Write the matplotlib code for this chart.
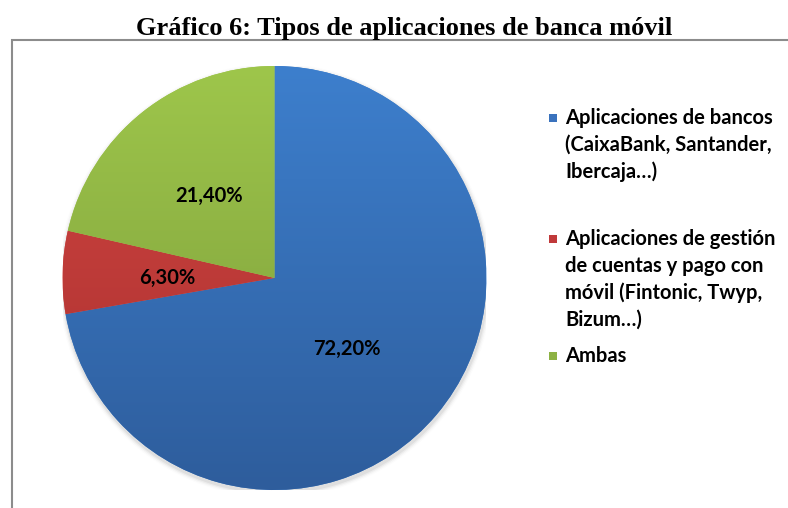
import numpy as np
import matplotlib
matplotlib.use("Agg")
import matplotlib.pyplot as plt
from matplotlib.patches import Rectangle
from matplotlib.colors import LinearSegmentedColormap

categories = [
    "Aplicaciones de bancos\n(CaixaBank, Santander,\nIbercaja…)",
    "Aplicaciones de gestión\nde cuentas y pago con\nmóvil (Fintonic, Twyp,\nBizum…)",
    "Ambas",
]
values = [72.2, 6.3, 21.4]
value_labels = ["72,20%", "6,30%", "21,40%"]
# (top colour, bottom colour) of the Excel-style gradient
colors = [("#3d7fcd", "#2e5d9c"), ("#d24643", "#a82f2d"), ("#9ec64b", "#7a9a3a")]
legend_colors = ["#3a72bd", "#c0393a", "#8db244"]

W, H = 788, 508
fig = plt.figure(figsize=(W / 100, H / 100), dpi=100)

fig.text(404 / W, 1 - 28 / H, "Gráfico 6: Tipos de aplicaciones de banca móvil",
         ha="center", va="center", fontsize=19, fontweight="bold",
         family="Liberation Serif")

# chart frame
fig.patches.append(Rectangle((12 / W, -0.05), 1.0, (H - 40) / H + 0.05,
                             transform=fig.transFigure, fill=False,
                             edgecolor="#8c8c8c", linewidth=1.5))

# pie axes: centre (274.5, 278), radius 212 px
r = 212
ax = fig.add_axes([(274.5 - r) / W, (H - 278 - r) / H, 2 * r / W, 2 * r / H])
wedges, _ = ax.pie(values, colors=[c[0] for c in colors], startangle=90,
                   counterclock=False, radius=1.0, wedgeprops=dict(linewidth=0))
ax.set_xlim(-1, 1)
ax.set_ylim(-1, 1)
ax.set_aspect("auto")

# soft shadow
for i, a in enumerate(np.linspace(0.05, 0.012, 4)):
    ax.add_patch(plt.Circle((0.004, -0.012), 1.0 + 0.006 * (i + 1), color="black",
                            alpha=a, zorder=0, linewidth=0))

grad = np.linspace(0, 1, 256).reshape(-1, 1)
for w, (top, bottom) in zip(wedges, colors):
    cmap = LinearSegmentedColormap.from_list("g", [top, bottom])
    im = ax.imshow(grad, cmap=cmap, extent=(-1, 1, -1, 1), aspect="auto",
                   origin="upper", zorder=2)
    im.set_clip_path(w)

label_pos = [(0.34, -0.335), (-0.505, 0.0), (-0.31, 0.385)]
for (x, y), lab in zip(label_pos, value_labels):
    ax.text(x, y, lab, ha="center", va="center", fontsize=14.5,
            fontweight="bold", family="Lato", zorder=5)

# legend, drawn by hand so the marker sits on the first line
first_line_y = [118, 239, 356]
line_step = 27
for cat, col, y0 in zip(categories, legend_colors, first_line_y):
    fig.patches.append(Rectangle((549 / W, 1 - (y0 + 4) / H), 8 / W, 8 / H,
                                 transform=fig.transFigure, facecolor=col,
                                 edgecolor="none"))
    for k, line in enumerate(cat.split("\n")):
        fig.text(565 / W, 1 - (y0 + k * line_step) / H, line, ha="left",
                 va="center", fontsize=14.5, fontweight="bold", family="Lato")

fig.savefig("out.png", dpi=100)
